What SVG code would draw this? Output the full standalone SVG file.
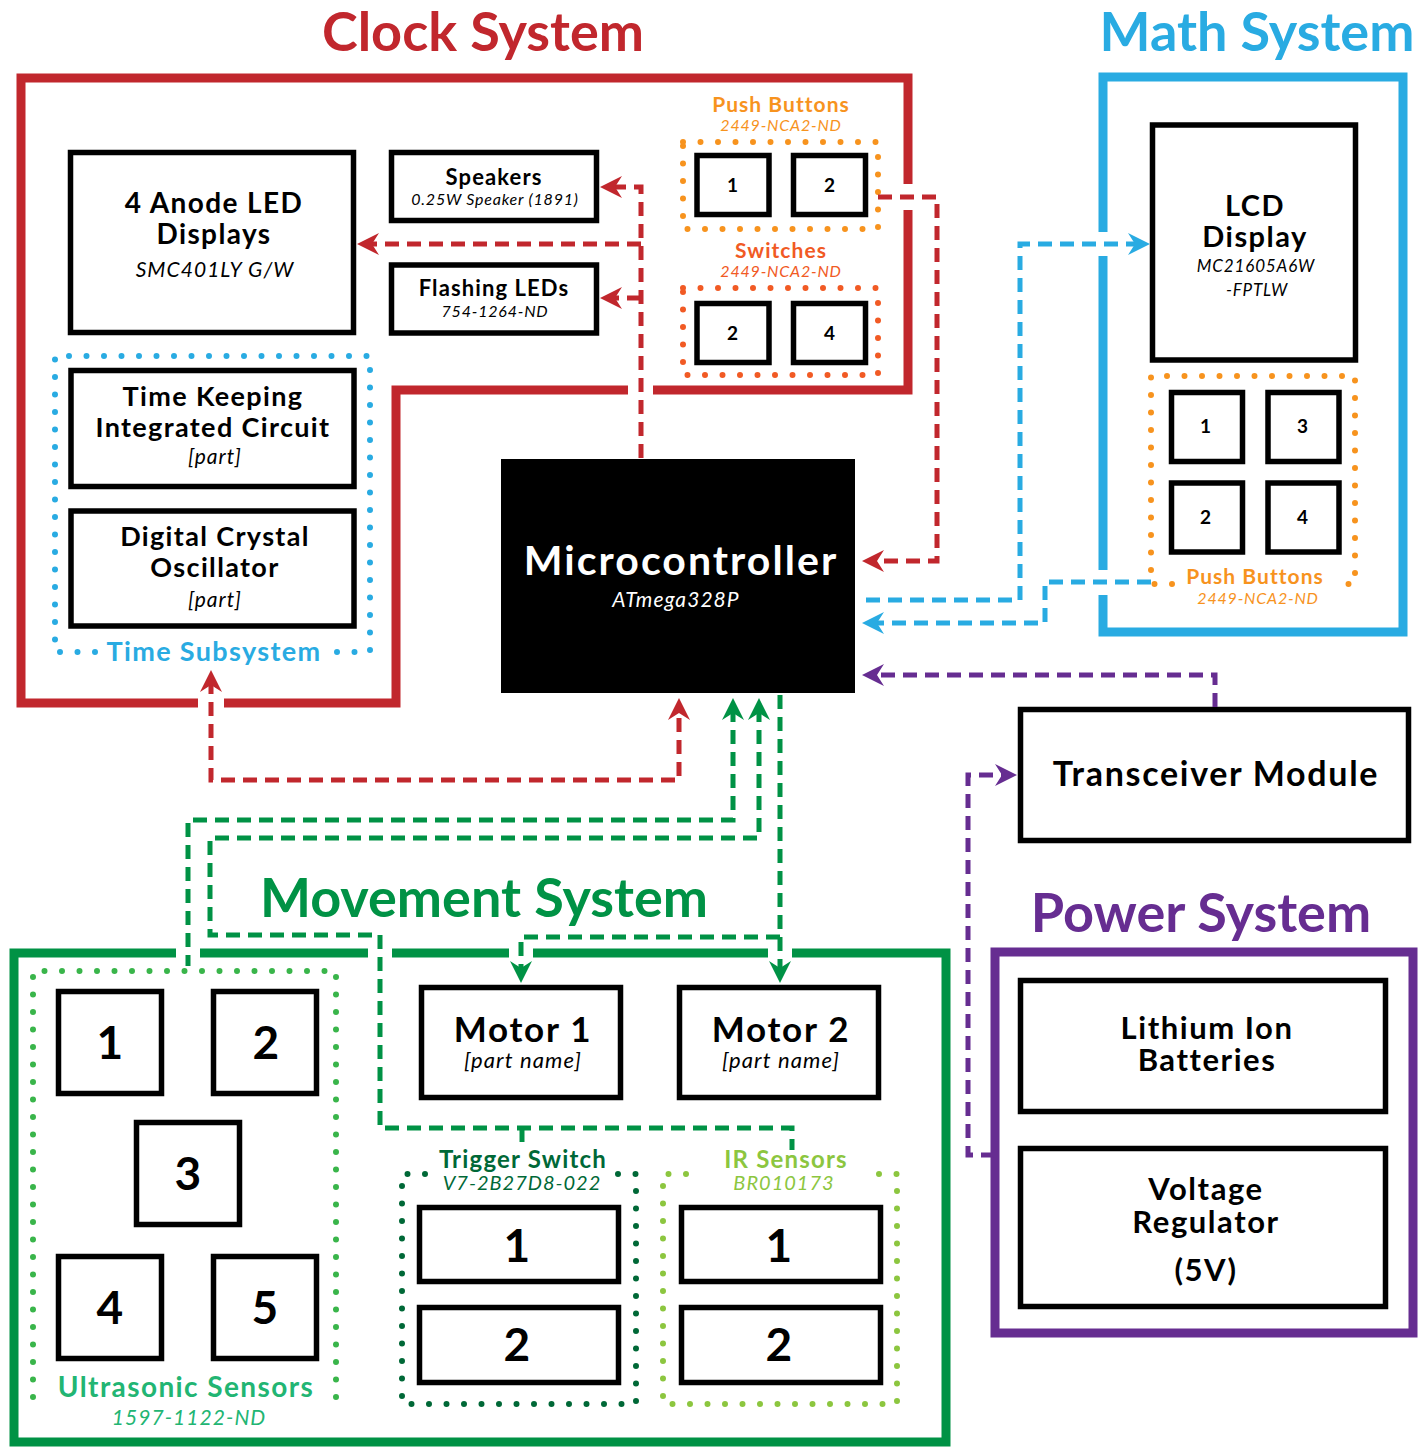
<svg xmlns="http://www.w3.org/2000/svg" width="1424" height="1448" viewBox="0 0 1424 1448">
<style>
text{font-family:Lato,"Open Sans","Liberation Sans",sans-serif;text-anchor:middle}
.t{font-weight:700;letter-spacing:0.05em}
.i{font-style:italic;letter-spacing:0.05em}
.box{fill:#fff;stroke:#000;stroke-width:5.5}
.sys{fill:none;stroke-width:9}
.dot{fill:none;stroke-width:6;stroke-linecap:round;stroke-dasharray:0 17.5}
.con{fill:none;stroke-width:5;stroke-dasharray:14 8}
.title{font-weight:700;font-size:54px}
</style>
<defs>
<marker id="arR" viewBox="-14 -12 26 24" refX="0" refY="0" markerWidth="26" markerHeight="24" markerUnits="userSpaceOnUse" orient="auto-start-reverse"><path d="M10,0 L-12,-11 L-5,0 L-12,11 Z" fill="#C1272D"/></marker>
<marker id="arG" viewBox="-14 -12 26 24" refX="0" refY="0" markerWidth="26" markerHeight="24" markerUnits="userSpaceOnUse" orient="auto-start-reverse"><path d="M10,0 L-12,-11 L-5,0 L-12,11 Z" fill="#009245"/></marker>
<marker id="arB" viewBox="-14 -12 26 24" refX="0" refY="0" markerWidth="26" markerHeight="24" markerUnits="userSpaceOnUse" orient="auto-start-reverse"><path d="M10,0 L-12,-11 L-5,0 L-12,11 Z" fill="#29ABE2"/></marker>
<marker id="arP" viewBox="-14 -12 26 24" refX="0" refY="0" markerWidth="26" markerHeight="24" markerUnits="userSpaceOnUse" orient="auto-start-reverse"><path d="M10,0 L-12,-11 L-5,0 L-12,11 Z" fill="#662D91"/></marker>
</defs>
<rect width="1424" height="1448" fill="#fff"/>

<!-- Clock System -->
<g id="clock-system">
<text x="483" y="51" class="title" fill="#C1272D">Clock System</text>
<path class="sys" stroke="#C1272D" d="M908,210 V390 H653 M628,390 H396 V703 H224 M198,703 H21 V78 H908 V184"/>
</g>
<g id="led-displays">
<rect class="box" x="70.5" y="152.5" width="283" height="180"/>
<text x="214" y="213" class="t" font-size="28">4 Anode LED</text>
<text x="214" y="244" class="t" font-size="28">Displays</text>
<text x="215" y="277" class="i" font-size="21">SMC401LY G/W</text>
</g>
<g id="speakers">
<rect class="box" x="391.5" y="152.5" width="205" height="68"/>
<text x="494" y="185" class="t" font-size="22">Speakers</text>
<text x="495" y="205" class="i" font-size="16">0.25W Speaker (1891)</text>
</g>
<g id="flashing-leds">
<rect class="box" x="391.5" y="265" width="205" height="68"/>
<text x="494" y="296" class="t" font-size="22">Flashing LEDs</text>
<text x="495" y="317" class="i" font-size="16">754-1264-ND</text>
</g>
<g id="time-subsystem">
<path class="dot" stroke="#29ABE2" d="M95,652 H55 V356 H370 V652 H330"/>
<text x="214" y="661" class="t" font-size="27" fill="#29ABE2">Time Subsystem</text>
</g>
<g id="time-keeping-ic">
<rect class="box" x="71" y="370.5" width="283" height="116"/>
<text x="213" y="406" class="t" font-size="27">Time Keeping</text>
<text x="213" y="437" class="t" font-size="27">Integrated Circuit</text>
<text x="215" y="464" class="i" font-size="21">[part]</text>
</g>
<g id="crystal-oscillator">
<rect class="box" x="71" y="511" width="283" height="115"/>
<text x="215" y="546" class="t" font-size="27">Digital Crystal</text>
<text x="215" y="577" class="t" font-size="27">Oscillator</text>
<text x="215" y="607" class="i" font-size="21">[part]</text>
</g>
<g id="clock-push-buttons">
<text x="781" y="112" class="t" font-size="21" fill="#F7931E">Push Buttons</text>
<text x="781" y="131" class="i" font-size="16" fill="#F7931E">2449-NCA2-ND</text>
<rect class="dot" stroke="#F7931E" x="683" y="142" width="195" height="87"/>
<rect class="box" x="697" y="155.5" width="72" height="59"/>
<rect class="box" x="793.5" y="155.5" width="72" height="59"/>
<text x="733" y="192" class="t" font-size="19">1</text>
<text x="830" y="192" class="t" font-size="19">2</text>
</g>
<g id="clock-switches">
<text x="781" y="258" class="t" font-size="21" fill="#F15A24">Switches</text>
<text x="781" y="277" class="i" font-size="16" fill="#F15A24">2449-NCA2-ND</text>
<rect class="dot" stroke="#F15A24" x="683" y="288" width="195" height="87"/>
<rect class="box" x="697" y="303.5" width="72" height="59"/>
<rect class="box" x="793.5" y="303.5" width="72" height="59"/>
<text x="733" y="340" class="t" font-size="19">2</text>
<text x="830" y="340" class="t" font-size="19">4</text>
</g>

<!-- Microcontroller -->
<g id="microcontroller">
<rect x="501" y="459" width="354" height="234" fill="#000"/>
<text x="681" y="575" class="t" font-size="41" fill="#fff">Microcontroller</text>
<text x="676" y="607" class="i" font-size="21" fill="#fff">ATmega328P</text>
</g>

<!-- Math System -->
<g id="math-system">
<text x="1257" y="51" class="title" fill="#29ABE2">Math System</text>
<path class="sys" stroke="#29ABE2" d="M1103,595 V632 H1403 V77 H1103 V232 M1103,256 V570"/>
</g>
<g id="lcd-display">
<rect class="box" x="1152.5" y="125" width="203" height="235"/>
<text x="1255" y="216" class="t" font-size="29">LCD</text>
<text x="1255" y="247" class="t" font-size="29">Display</text>
<text x="1256" y="272" class="i" font-size="17">MC21605A6W</text>
<text x="1257" y="296" class="i" font-size="17">-FPTLW</text>
</g>
<g id="math-push-buttons">
<path class="dot" stroke="#F7931E" d="M1172,584 H1151 V376 H1355 V584 H1338"/>
<rect class="box" x="1171.5" y="392.5" width="71" height="69"/>
<rect class="box" x="1268" y="392.5" width="71" height="69"/>
<rect class="box" x="1171.5" y="483" width="71" height="69"/>
<rect class="box" x="1268" y="483" width="71" height="69"/>
<text x="1206" y="433" class="t" font-size="19">1</text>
<text x="1303" y="433" class="t" font-size="19">3</text>
<text x="1206" y="524" class="t" font-size="19">2</text>
<text x="1303" y="524" class="t" font-size="19">4</text>
<text x="1255" y="584" class="t" font-size="21" fill="#F7931E">Push Buttons</text>
<text x="1258" y="604" class="i" font-size="16" fill="#F7931E">2449-NCA2-ND</text>
</g>

<!-- Transceiver -->
<g id="transceiver">
<rect class="box" x="1020.5" y="709.5" width="388" height="131"/>
<text x="1216" y="786" class="t" font-size="34">Transceiver Module</text>
</g>

<!-- Power System -->
<g id="power-system">
<text x="1201" y="932" class="title" fill="#662D91">Power System</text>
<rect class="sys" stroke="#662D91" x="995" y="952" width="418" height="381"/>
</g>
<g id="batteries">
<rect class="box" x="1020.5" y="980.5" width="365" height="131"/>
<text x="1207" y="1039" class="t" font-size="31">Lithium Ion</text>
<text x="1207" y="1071" class="t" font-size="31">Batteries</text>
</g>
<g id="voltage-regulator">
<rect class="box" x="1020.5" y="1148.5" width="365" height="158"/>
<text x="1206" y="1200" class="t" font-size="31">Voltage</text>
<text x="1206" y="1233" class="t" font-size="31">Regulator</text>
<text x="1206" y="1281" class="t" font-size="31">(5V)</text>
</g>

<!-- Movement System -->
<g id="movement-system">
<text x="484" y="917" class="title" fill="#009245">Movement System</text>
<path class="sys" stroke="#009245" d="M200,953 H368 M392,953 H509 M533,953 H768 M792,953 H946 V1442 H14 V953 H176"/>
</g>
<g id="ultrasonic-sensors">
<path class="dot" stroke="#39B54A" d="M33,1397 V971 H336 V1400"/>
<rect class="box" x="58.5" y="991.5" width="103" height="102"/>
<rect class="box" x="213.5" y="991.5" width="103" height="102"/>
<rect class="box" x="136.5" y="1122.5" width="103" height="102"/>
<rect class="box" x="58.5" y="1256.5" width="103" height="102"/>
<rect class="box" x="213.5" y="1256.5" width="103" height="102"/>
<text x="111" y="1059" class="t" font-size="46">1</text>
<text x="267" y="1059" class="t" font-size="46">2</text>
<text x="189" y="1190" class="t" font-size="46">3</text>
<text x="111" y="1324" class="t" font-size="46">4</text>
<text x="266" y="1324" class="t" font-size="46">5</text>
<text x="186" y="1397" class="t" font-size="28" fill="#22B573">Ultrasonic Sensors</text>
<text x="189" y="1425" class="i" font-size="21" fill="#22B573">1597-1122-ND</text>
</g>
<g id="motor-1">
<rect class="box" x="421.5" y="987.5" width="199" height="110"/>
<text x="523" y="1042" class="t" font-size="35">Motor 1</text>
<text x="523" y="1068" class="i" font-size="22">[part name]</text>
</g>
<g id="motor-2">
<rect class="box" x="679.5" y="987.5" width="199" height="110"/>
<text x="781" y="1042" class="t" font-size="35">Motor 2</text>
<text x="781" y="1068" class="i" font-size="22">[part name]</text>
</g>
<g id="trigger-switch">
<path class="dot" stroke="#006837" d="M425,1174 H402 V1404 H636 V1174 H612"/>
<text x="523" y="1168" class="t" font-size="24" fill="#006837">Trigger Switch</text>
<text x="522" y="1190" class="i" font-size="20" fill="#006837">V7-2B27D8-022</text>
<rect class="box" x="419.5" y="1207.5" width="199" height="74"/>
<rect class="box" x="419.5" y="1307.5" width="199" height="75"/>
<text x="518" y="1262" class="t" font-size="46">1</text>
<text x="518" y="1361" class="t" font-size="46">2</text>
</g>
<g id="ir-sensors">
<path class="dot" stroke="#8CC63F" d="M686,1174 H663 V1404 H897 V1174 H873"/>
<text x="786" y="1168" class="t" font-size="24" fill="#8CC63F">IR Sensors</text>
<text x="784" y="1190" class="i" font-size="20" fill="#8CC63F">BR010173</text>
<rect class="box" x="681.5" y="1207.5" width="199" height="74"/>
<rect class="box" x="681.5" y="1307.5" width="199" height="75"/>
<text x="780" y="1262" class="t" font-size="46">1</text>
<text x="780" y="1361" class="t" font-size="46">2</text>
</g>

<!-- Connectors -->
<g id="connectors">
<path class="con" stroke="#C1272D" d="M641,458 V187 H610" marker-end="url(#arR)"/>
<path class="con" stroke="#C1272D" d="M641,244 H367" marker-end="url(#arR)"/>
<path class="con" stroke="#C1272D" d="M641,298 H610" marker-end="url(#arR)"/>
<path class="con" stroke="#C1272D" d="M878,197 H937 V561 H872" marker-end="url(#arR)"/>
<path class="con" stroke="#C1272D" d="M211,680 V780 H679 V708" marker-start="url(#arR)" marker-end="url(#arR)"/>
<path class="con" stroke="#009245" d="M733,708 V820 H188 V966" marker-start="url(#arG)"/>
<path class="con" stroke="#009245" d="M759,708 V838 H210 V935 H380 V1128 H792 V1150" marker-start="url(#arG)"/>
<path class="con" stroke="#009245" d="M522,1128 V1148"/>
<path class="con" stroke="#009245" d="M780,695 V973" marker-end="url(#arG)"/>
<path class="con" stroke="#009245" d="M780,937 H521 V973" marker-end="url(#arG)"/>
<path class="con" stroke="#29ABE2" d="M866,600 H1020 V244 H1140" marker-end="url(#arB)"/>
<path class="con" stroke="#29ABE2" d="M1151,582 H1045 V623 H872" marker-end="url(#arB)"/>
<path class="con" stroke="#662D91" d="M1215,707 V675 H872" marker-end="url(#arP)"/>
<path class="con" stroke="#662D91" d="M995,1155 H968 V775 H1007" marker-end="url(#arP)"/>
</g>
</svg>
